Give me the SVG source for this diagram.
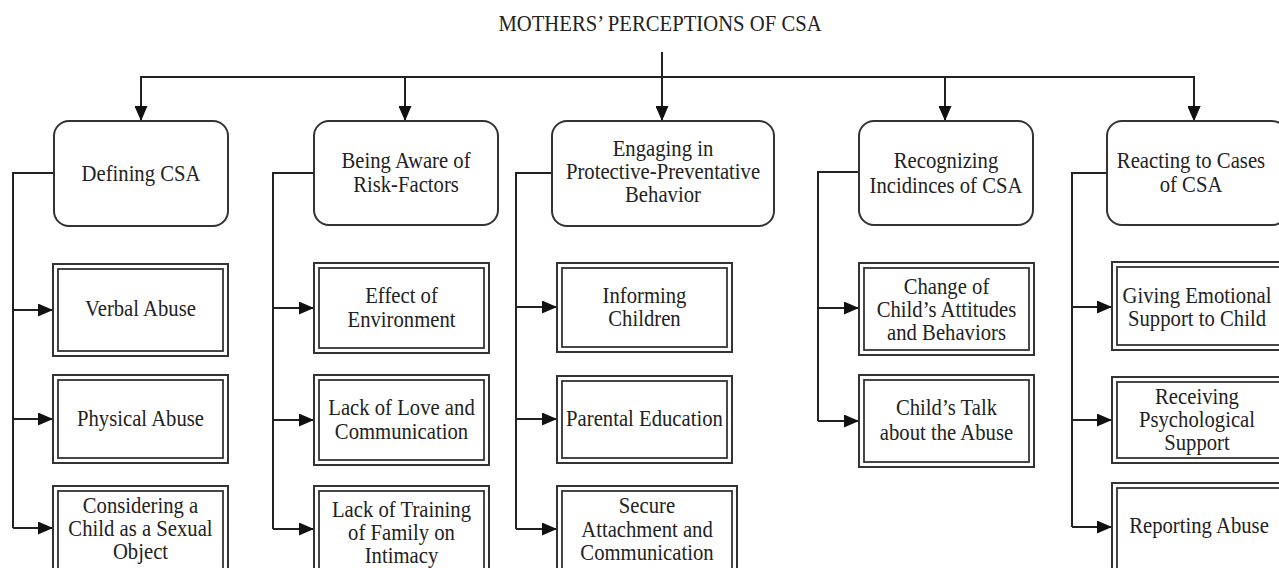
<svg xmlns="http://www.w3.org/2000/svg" width="1279" height="568" viewBox="0 0 1279 568">
<style>
.t{font-family:"Liberation Serif","Times New Roman",serif;font-size:22.5px;fill:#222;text-anchor:middle}
.top{fill:#fff;stroke:#333;stroke-width:2}
.o{fill:#fff;stroke:#333;stroke-width:2}
.i{fill:none;stroke:#333;stroke-width:1.8}
.c{fill:none;stroke:#222;stroke-width:2}
</style>
<defs>
<marker id="ah" markerUnits="userSpaceOnUse" markerWidth="15" markerHeight="13" refX="15" refY="6.5" orient="auto">
<path d="M0,0 L15,6.5 L0,13 z" fill="#111"/>
</marker>
</defs>
<rect width="1279" height="568" fill="#fff"/>

<g id="title"><text class="t" transform="translate(660 0) scale(0.92 1)" x="0" y="31">MOTHERS’ PERCEPTIONS OF CSA</text></g>

<g id="connectors">
<path class="c" d="M662,52 V77" stroke-width="2.8"/>
<path class="c" d="M141,121 V77 H1194 V121" marker-end="url(#ah)"/>
<path class="c" d="M141,77 V121" marker-end="url(#ah)"/>
<path class="c" d="M405,77 V121" marker-end="url(#ah)"/>
<path class="c" d="M662,77 V121" marker-end="url(#ah)"/>
<path class="c" d="M945,77 V121" marker-end="url(#ah)"/>
<path class="c" d="M1194,77 V121" marker-end="url(#ah)"/>
<path class="c" d="M54,173 H13 V528"/>
<path class="c" d="M13,310 H53" marker-end="url(#ah)"/>
<path class="c" d="M13,419 H53" marker-end="url(#ah)"/>
<path class="c" d="M13,528 H53" marker-end="url(#ah)"/>
<path class="c" d="M314,173 H273 V529"/>
<path class="c" d="M273,308 H314" marker-end="url(#ah)"/>
<path class="c" d="M273,420 H314" marker-end="url(#ah)"/>
<path class="c" d="M273,529 H314" marker-end="url(#ah)"/>
<path class="c" d="M552,173 H516 V529"/>
<path class="c" d="M516,307 H557" marker-end="url(#ah)"/>
<path class="c" d="M516,419 H557" marker-end="url(#ah)"/>
<path class="c" d="M516,529 H557" marker-end="url(#ah)"/>
<path class="c" d="M859,172 H818 V421"/>
<path class="c" d="M818,308 H859" marker-end="url(#ah)"/>
<path class="c" d="M818,421 H859" marker-end="url(#ah)"/>
<path class="c" d="M1107,173 H1072 V527"/>
<path class="c" d="M1072,307 H1112" marker-end="url(#ah)"/>
<path class="c" d="M1072,420 H1112" marker-end="url(#ah)"/>
<path class="c" d="M1072,527 H1112" marker-end="url(#ah)"/>
</g>

<g id="n-defining">
<rect class="top" x="54" y="121" width="174" height="105" rx="15"/>
<text class="t" transform="translate(141 0) scale(0.92 1)" x="0" y="181">Defining CSA</text>
</g>
<g id="n-verbal">
<rect class="o" x="53" y="264" width="175" height="92"/><rect class="i" x="58" y="269" width="165" height="82"/>
<text class="t" transform="translate(140.5 0) scale(0.92 1)" x="0" y="316">Verbal Abuse</text>
</g>
<g id="n-physical">
<rect class="o" x="53" y="375" width="175" height="88"/><rect class="i" x="58" y="380" width="165" height="78"/>
<text class="t" transform="translate(140.5 0) scale(0.92 1)" x="0" y="426">Physical Abuse</text>
</g>
<g id="n-object">
<rect class="o" x="53" y="486" width="175" height="95"/><rect class="i" x="58" y="491" width="165" height="85"/>
<text class="t" transform="translate(140.5 0) scale(0.92 1)"><tspan x="0" y="513">Considering a</tspan><tspan x="0" y="536">Child as a Sexual</tspan><tspan x="0" y="559">Object</tspan></text>
</g>

<g id="n-aware">
<rect class="top" x="314" y="121" width="184" height="104" rx="15"/>
<text class="t" transform="translate(406 0) scale(0.92 1)"><tspan x="0" y="168">Being Aware of</tspan><tspan x="0" y="192">Risk-Factors</tspan></text>
</g>
<g id="n-environment">
<rect class="o" x="314" y="263" width="175" height="90"/><rect class="i" x="319" y="268" width="165" height="80"/>
<text class="t" transform="translate(401.5 0) scale(0.92 1)"><tspan x="0" y="303">Effect of</tspan><tspan x="0" y="327">Environment</tspan></text>
</g>
<g id="n-love">
<rect class="o" x="314" y="375" width="175" height="90"/><rect class="i" x="319" y="380" width="165" height="80"/>
<text class="t" transform="translate(401.5 0) scale(0.92 1)"><tspan x="0" y="415">Lack of Love and</tspan><tspan x="0" y="439">Communication</tspan></text>
</g>
<g id="n-training">
<rect class="o" x="314" y="486" width="175" height="95"/><rect class="i" x="319" y="491" width="165" height="85"/>
<text class="t" transform="translate(401.5 0) scale(0.92 1)"><tspan x="0" y="517">Lack of Training</tspan><tspan x="0" y="540">of Family on</tspan><tspan x="0" y="563">Intimacy</tspan></text>
</g>

<g id="n-engaging">
<rect class="top" x="552" y="121" width="222" height="105" rx="15"/>
<text class="t" transform="translate(663 0) scale(0.92 1)"><tspan x="0" y="156">Engaging in</tspan><tspan x="0" y="179">Protective-Preventative</tspan><tspan x="0" y="202">Behavior</tspan></text>
</g>
<g id="n-informing">
<rect class="o" x="557" y="263" width="175" height="89"/><rect class="i" x="562" y="268" width="165" height="79"/>
<text class="t" transform="translate(644.5 0) scale(0.92 1)"><tspan x="0" y="303">Informing</tspan><tspan x="0" y="326">Children</tspan></text>
</g>
<g id="n-parental">
<rect class="o" x="557" y="376" width="175" height="87"/><rect class="i" x="562" y="381" width="165" height="77"/>
<text class="t" transform="translate(644.5 0) scale(0.92 1)" x="0" y="426">Parental Education</text>
</g>
<g id="n-secure">
<rect class="o" x="557" y="486" width="180" height="95"/><rect class="i" x="562" y="491" width="170" height="85"/>
<text class="t" transform="translate(647 0) scale(0.92 1)"><tspan x="0" y="513">Secure</tspan><tspan x="0" y="537">Attachment and</tspan><tspan x="0" y="560">Communication</tspan></text>
</g>

<g id="n-recognizing">
<rect class="top" x="859" y="121" width="174" height="104" rx="15"/>
<text class="t" transform="translate(946 0) scale(0.92 1)"><tspan x="0" y="168">Recognizing</tspan><tspan x="0" y="193">Incidinces of CSA</tspan></text>
</g>
<g id="n-change">
<rect class="o" x="859" y="263" width="175" height="92"/><rect class="i" x="864" y="268" width="165" height="82"/>
<text class="t" transform="translate(946.5 0) scale(0.92 1)"><tspan x="0" y="294">Change of</tspan><tspan x="0" y="317">Child’s Attitudes</tspan><tspan x="0" y="340">and Behaviors</tspan></text>
</g>
<g id="n-talk">
<rect class="o" x="859" y="375" width="175" height="92"/><rect class="i" x="864" y="380" width="165" height="82"/>
<text class="t" transform="translate(946.5 0) scale(0.92 1)"><tspan x="0" y="415">Child’s Talk</tspan><tspan x="0" y="440">about the Abuse</tspan></text>
</g>

<g id="n-reacting">
<rect class="top" x="1107" y="121" width="180" height="104" rx="15"/>
<text class="t" transform="translate(1191 0) scale(0.92 1)"><tspan x="0" y="168">Reacting to Cases</tspan><tspan x="0" y="192">of CSA</tspan></text>
</g>
<g id="n-emotional">
<rect class="o" x="1112" y="262" width="175" height="88"/><rect class="i" x="1117" y="267" width="165" height="78"/>
<text class="t" transform="translate(1197 0) scale(0.92 1)"><tspan x="0" y="303">Giving Emotional</tspan><tspan x="0" y="326">Support to Child</tspan></text>
</g>
<g id="n-psych">
<rect class="o" x="1112" y="377" width="175" height="86"/><rect class="i" x="1117" y="382" width="165" height="76"/>
<text class="t" transform="translate(1197 0) scale(0.92 1)"><tspan x="0" y="404">Receiving</tspan><tspan x="0" y="427">Psychological</tspan><tspan x="0" y="450">Support</tspan></text>
</g>
<g id="n-reporting">
<rect class="o" x="1112" y="483" width="175" height="98"/><rect class="i" x="1117" y="488" width="165" height="88"/>
<text class="t" transform="translate(1199 0) scale(0.92 1)" x="0" y="533">Reporting Abuse</text>
</g>
</svg>
